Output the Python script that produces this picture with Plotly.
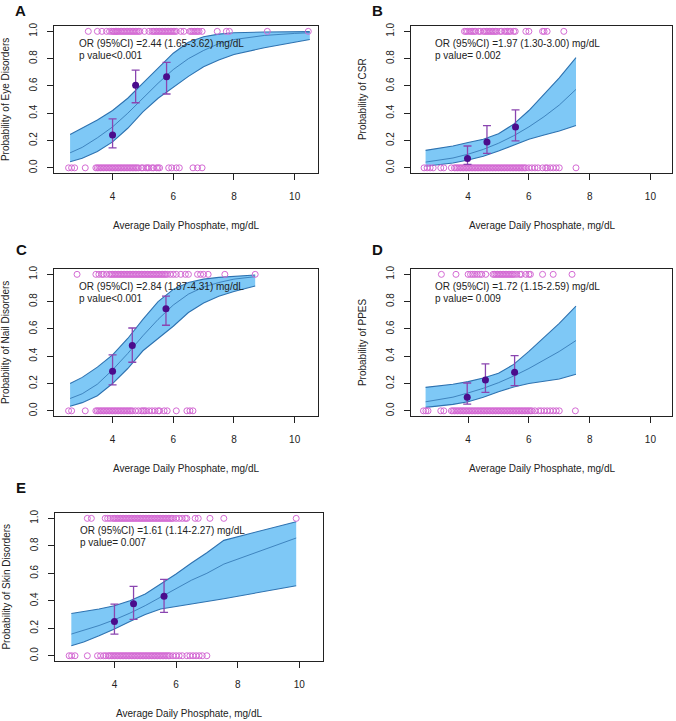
import plotly.graph_objects as go

# ---------------- data ----------------
panel_letters = ["A", "B", "C", "D", "E"]
y_titles = ["Probability of Eye Disorders", "Probability of CSR", "Probability of Nail Disorders",
            "Probability of PPES", "Probability of Skin Disorders"]
or_text = ["OR (95%CI) =2.44 (1.65-3.62) mg/dL", "OR (95%CI) =1.97 (1.30-3.00) mg/dL",
           "OR (95%CI) =2.84 (1.87-4.31) mg/dL", "OR (95%CI) =1.72 (1.15-2.59) mg/dL",
           "OR (95%CI) =1.61 (1.14-2.27) mg/dL"]
p_text = ["p value<0.001", "p value= 0.002", "p value<0.001", "p value= 0.009", "p value= 0.007"]
x_title = "Average Daily Phosphate, mg/dL"
x_ticks = [4, 6, 8, 10]
y_ticks = [0.0, 0.2, 0.4, 0.6, 0.8, 1.0]

# Panel A - Eye disorders
a_curve_x = [2.6, 3.0, 3.5, 4.0, 4.5, 5.0, 5.5, 6.0, 6.5, 7.0, 7.5, 8.0, 9.0, 10.0, 10.5]
a_fit = [0.11, 0.15, 0.22, 0.30, 0.40, 0.51, 0.62, 0.72, 0.80, 0.86, 0.91, 0.94, 0.97, 0.985, 0.99]
a_upper = [0.245, 0.29, 0.35, 0.42, 0.51, 0.62, 0.73, 0.84, 0.92, 0.96, 0.98, 0.99, 0.995, 0.997, 0.998]
a_lower = [0.045, 0.07, 0.12, 0.19, 0.29, 0.41, 0.51, 0.59, 0.67, 0.74, 0.79, 0.83, 0.88, 0.92, 0.94]
a_mean_x = [4.0, 4.76, 5.78]
a_mean_y = [0.24, 0.605, 0.667]
a_mean_lo = [0.146, 0.477, 0.541]
a_mean_hi = [0.358, 0.716, 0.773]
a_events = [3.2, 3.5, 3.65, 3.8, 3.9, 3.97, 4.02, 4.05, 4.1, 4.13, 4.15, 4.2, 4.25, 4.3, 4.35, 4.4,
            4.45, 4.5, 4.55, 4.6, 4.65, 4.7, 4.75, 4.8, 4.85, 4.9, 5.05, 5.2, 5.3, 5.35, 5.4, 5.45,
            5.5, 5.55, 5.6, 5.65, 5.7, 5.75, 5.8, 5.85, 5.9, 5.95, 6.0, 6.05, 6.1, 6.25, 6.35, 6.55,
            6.6, 6.65, 6.7, 6.75, 6.8, 6.85, 6.95, 7.45, 7.75, 7.85, 9.1, 10.45]
a_nonevents = [2.55, 2.65, 2.75, 3.1, 3.45, 3.5, 3.55, 3.6, 3.65, 3.7, 3.75, 3.8, 3.85, 3.9, 3.95,
               4.0, 4.05, 4.1, 4.15, 4.2, 4.25, 4.3, 4.35, 4.4, 4.45, 4.5, 4.55, 4.6, 4.65, 4.7,
               4.75, 4.8, 4.85, 4.95, 5.0, 5.1, 5.15, 5.2, 5.3, 5.35, 5.45, 5.5, 5.55, 5.85, 5.95,
               6.1, 6.2, 6.65, 6.8, 6.95]

# Panel B - CSR
b_curve_x = [2.6, 3.0, 3.5, 4.0, 4.5, 5.0, 5.5, 6.0, 6.5, 7.0, 7.55]
b_fit = [0.042, 0.055, 0.072, 0.10, 0.135, 0.18, 0.235, 0.30, 0.375, 0.46, 0.575]
b_upper = [0.128, 0.14, 0.16, 0.185, 0.21, 0.25, 0.32, 0.42, 0.54, 0.66, 0.807]
b_lower = [0.012, 0.02, 0.035, 0.057, 0.085, 0.123, 0.165, 0.21, 0.24, 0.27, 0.31]
b_mean_x = [3.98, 4.62, 5.56]
b_mean_y = [0.069, 0.19, 0.30]
b_mean_lo = [0.025, 0.106, 0.198]
b_mean_hi = [0.16, 0.309, 0.425]
b_events = [3.88, 3.93, 3.98, 4.05, 4.1, 4.15, 4.2, 4.25, 4.35, 4.4, 4.5, 4.55, 4.6, 4.65, 4.7,
            4.75, 4.8, 4.85, 4.9, 4.95, 5.05, 5.1, 5.2, 5.25, 5.3, 5.35, 5.4, 5.5, 5.55, 5.9, 6.0,
            6.45, 6.5, 6.6, 7.15]
b_nonevents = [2.55, 2.65, 2.75, 2.85, 3.1, 3.2, 3.45, 3.55, 3.6, 3.65, 3.7, 3.75, 3.8, 3.85, 3.9,
               3.95, 4.0, 4.05, 4.1, 4.15, 4.2, 4.25, 4.3, 4.35, 4.4, 4.45, 4.5, 4.55, 4.6, 4.65,
               4.7, 4.75, 4.8, 4.85, 4.9, 4.95, 5.0, 5.05, 5.1, 5.15, 5.2, 5.25, 5.3, 5.35, 5.4,
               5.45, 5.5, 5.55, 5.6, 5.65, 5.7, 5.75, 5.8, 5.85, 5.9, 6.0, 6.1, 6.2, 6.3, 6.45,
               6.55, 6.6, 6.7, 6.8, 6.9, 7.0, 7.55]

# Panel C - Nail disorders
c_curve_x = [2.6, 3.0, 3.5, 4.0, 4.5, 5.0, 5.5, 6.0, 6.5, 7.0, 7.5, 8.0, 8.7]
c_fit = [0.09, 0.125, 0.195, 0.30, 0.42, 0.55, 0.67, 0.775, 0.855, 0.907, 0.94, 0.965, 0.983]
c_upper = [0.20, 0.245, 0.32, 0.41, 0.53, 0.67, 0.80, 0.89, 0.94, 0.965, 0.978, 0.986, 0.995]
c_lower = [0.034, 0.06, 0.11, 0.20, 0.31, 0.44, 0.53, 0.62, 0.72, 0.79, 0.84, 0.875, 0.914]
c_mean_x = [4.0, 4.65, 5.76]
c_mean_y = [0.29, 0.479, 0.747]
c_mean_lo = [0.19, 0.356, 0.627]
c_mean_hi = [0.41, 0.607, 0.84]
c_events = [2.83, 3.45, 3.55, 3.65, 3.7, 3.8, 3.9, 3.95, 4.0, 4.05, 4.1, 4.15, 4.2, 4.25, 4.3,
            4.35, 4.4, 4.45, 4.5, 4.55, 4.6, 4.65, 4.7, 4.75, 4.8, 4.85, 4.9, 4.95, 5.0, 5.05,
            5.1, 5.15, 5.2, 5.25, 5.3, 5.35, 5.4, 5.45, 5.5, 5.55, 5.6, 5.65, 5.7, 5.75, 5.8,
            5.9, 6.0, 6.1, 6.25, 6.4, 6.5, 6.8, 6.9, 7.0, 7.15, 7.7, 8.7]
c_nonevents = [2.55, 2.65, 3.1, 3.45, 3.5, 3.55, 3.6, 3.65, 3.7, 3.75, 3.8, 3.85, 3.9, 3.95, 4.0,
               4.05, 4.1, 4.15, 4.2, 4.25, 4.3, 4.35, 4.4, 4.45, 4.5, 4.55, 4.6, 4.65, 4.75, 4.85,
               4.95, 5.0, 5.05, 5.1, 5.2, 5.3, 5.4, 5.5, 5.55, 5.7, 5.8, 6.1, 6.45, 6.55, 6.65]

# Panel D - PPES
d_curve_x = [2.6, 3.0, 3.5, 4.0, 4.5, 5.0, 5.5, 6.0, 6.5, 7.0, 7.55]
d_fit = [0.066, 0.08, 0.10, 0.131, 0.165, 0.206, 0.255, 0.31, 0.37, 0.435, 0.515]
d_upper = [0.172, 0.18, 0.195, 0.214, 0.24, 0.275, 0.34, 0.435, 0.535, 0.64, 0.767]
d_lower = [0.025, 0.033, 0.047, 0.066, 0.10, 0.14, 0.175, 0.20, 0.217, 0.233, 0.268]
d_mean_x = [3.97, 4.57, 5.53]
d_mean_y = [0.10, 0.226, 0.283]
d_mean_lo = [0.049, 0.135, 0.184]
d_mean_hi = [0.204, 0.344, 0.405]
d_events = [3.12, 3.6, 4.0, 4.08, 4.15, 4.22, 4.3, 4.38, 4.45, 4.58, 4.82, 4.87, 4.92, 4.97, 5.02,
            5.07, 5.12, 5.17, 5.22, 5.27, 5.32, 5.37, 5.42, 5.47, 5.52, 5.6, 5.7, 5.75, 5.9, 6.0,
            6.05, 6.45, 6.8, 7.42]
d_nonevents = [2.53, 2.61, 2.68, 3.1, 3.2, 3.45, 3.5, 3.55, 3.6, 3.65, 3.7, 3.75, 3.8, 3.85, 3.9,
               3.95, 4.0, 4.05, 4.1, 4.15, 4.2, 4.25, 4.3, 4.35, 4.4, 4.45, 4.5, 4.55, 4.6, 4.65,
               4.7, 4.75, 4.8, 4.85, 4.9, 4.95, 5.0, 5.05, 5.1, 5.15, 5.2, 5.25, 5.3, 5.35, 5.4,
               5.45, 5.5, 5.55, 5.6, 5.65, 5.7, 5.75, 5.8, 5.85, 5.9, 5.95, 6.0, 6.05, 6.1, 6.2,
               6.32, 6.4, 6.5, 6.6, 6.7, 6.8, 6.9, 7.0, 7.53]

# Panel E - Skin disorders
e_curve_x = [2.6, 3.0, 3.5, 4.0, 4.5, 5.0, 5.5, 6.0, 6.5, 7.0, 7.55, 9.9]
e_fit = [0.158, 0.185, 0.22, 0.262, 0.31, 0.365, 0.425, 0.49, 0.55, 0.60, 0.667, 0.857]
e_upper = [0.308, 0.32, 0.34, 0.364, 0.40, 0.45, 0.52, 0.595, 0.675, 0.75, 0.84, 0.976]
e_lower = [0.073, 0.10, 0.145, 0.194, 0.25, 0.30, 0.34, 0.36, 0.38, 0.395, 0.415, 0.51]
e_mean_x = [4.0, 4.62, 5.61]
e_mean_y = [0.25, 0.379, 0.434]
e_mean_lo = [0.158, 0.265, 0.316]
e_mean_hi = [0.376, 0.505, 0.556]
e_events = [3.12, 3.25, 3.7, 3.78, 3.86, 3.95, 4.0, 4.05, 4.1, 4.15, 4.2, 4.25, 4.3, 4.35, 4.4,
            4.45, 4.5, 4.55, 4.6, 4.65, 4.7, 4.75, 4.8, 4.85, 4.9, 4.95, 5.0, 5.05, 5.1, 5.15,
            5.2, 5.25, 5.3, 5.35, 5.4, 5.45, 5.5, 5.55, 5.6, 5.65, 5.7, 5.75, 5.8, 5.85, 5.9,
            6.0, 6.1, 6.2, 6.3, 6.35, 6.62, 6.72, 7.1, 7.55, 9.9]
e_nonevents = [2.53, 2.61, 2.72, 3.12, 3.45, 3.55, 3.65, 3.72, 3.8, 3.85, 3.9, 3.95, 4.0, 4.05,
               4.1, 4.15, 4.2, 4.25, 4.3, 4.35, 4.4, 4.45, 4.5, 4.55, 4.6, 4.65, 4.7, 4.75, 4.8,
               4.85, 4.9, 4.95, 5.0, 5.05, 5.1, 5.15, 5.2, 5.25, 5.3, 5.35, 5.4, 5.45, 5.5, 5.55,
               5.6, 5.65, 5.7, 5.75, 5.8, 5.9, 6.0, 6.1, 6.2, 6.35, 6.45, 6.55, 6.65, 6.75, 6.85, 7.0]

panels = [
    (a_curve_x, a_fit, a_upper, a_lower, a_mean_x, a_mean_y, a_mean_lo, a_mean_hi, a_events, a_nonevents),
    (b_curve_x, b_fit, b_upper, b_lower, b_mean_x, b_mean_y, b_mean_lo, b_mean_hi, b_events, b_nonevents),
    (c_curve_x, c_fit, c_upper, c_lower, c_mean_x, c_mean_y, c_mean_lo, c_mean_hi, c_events, c_nonevents),
    (d_curve_x, d_fit, d_upper, d_lower, d_mean_x, d_mean_y, d_mean_lo, d_mean_hi, d_events, d_nonevents),
    (e_curve_x, e_fit, e_upper, e_lower, e_mean_x, e_mean_y, e_mean_lo, e_mean_hi, e_events, e_nonevents),
]

# ---------------- layout geometry (pixels) ----------------
W, H = 676, 721
boxes = [  # left, right, top, bottom in pixels
    (54, 318, 23, 171),
    (411, 672, 23, 171),
    (54, 318, 267, 415),
    (411, 672, 267, 415),
    (55, 323, 512, 661),
]
x_ranges = [[2.07, 10.77], [2.12, 10.71], [2.07, 10.77], [2.12, 10.71], [2.07, 10.77]]
letter_pos = [(20, 8), (377, 8), (21, 248), (377, 248), (21, 487)]

RUG = "#D46AD4"
FILL = "rgba(126,200,246,1)"
EDGE = "#2E72B0"
MEAN = "#4A0C8C"
ERR = "#8A45B0"
FONT = "Liberation Sans, Arial, sans-serif"

fig = go.Figure()
annotations = []

for i, (cx, fit, up, lo, mx, my, mlo, mhi, ev, nev) in enumerate(panels):
    sfx = "" if i == 0 else str(i + 1)
    xa, ya = "x" + sfx, "y" + sfx
    # band
    fig.add_trace(go.Scatter(x=cx, y=up, xaxis=xa, yaxis=ya, mode="lines",
                             line=dict(color=EDGE, width=1.1), showlegend=False, hoverinfo="skip"))
    fig.add_trace(go.Scatter(x=cx, y=lo, xaxis=xa, yaxis=ya, mode="lines", fill="tonexty",
                             fillcolor=FILL, line=dict(color=EDGE, width=1.1), showlegend=False,
                             hoverinfo="skip"))
    fig.add_trace(go.Scatter(x=cx, y=fit, xaxis=xa, yaxis=ya, mode="lines",
                             line=dict(color=EDGE, width=0.8), showlegend=False))
    # rugs
    fig.add_trace(go.Scatter(x=ev, y=[1.0] * len(ev), xaxis=xa, yaxis=ya, mode="markers",
                             marker=dict(symbol="circle-open", size=6, color=RUG, line=dict(width=1)),
                             showlegend=False))
    fig.add_trace(go.Scatter(x=nev, y=[0.0] * len(nev), xaxis=xa, yaxis=ya, mode="markers",
                             marker=dict(symbol="circle-open", size=6, color=RUG, line=dict(width=1)),
                             showlegend=False))
    # means with CI
    fig.add_trace(go.Scatter(x=mx, y=my, xaxis=xa, yaxis=ya, mode="markers",
                             marker=dict(symbol="circle", size=7, color=MEAN),
                             error_y=dict(type="data", symmetric=False,
                                          array=[h - m for h, m in zip(mhi, my)],
                                          arrayminus=[m - l for m, l in zip(my, mlo)],
                                          color=ERR, thickness=1.3, width=4),
                             showlegend=False))

    L, R, T, B = boxes[i]
    xdom = [L / W, R / W]
    ydom = [1 - B / H, 1 - T / H]
    common = dict(showline=True, mirror=True, linecolor="#222", linewidth=1, ticks="outside",
                  ticklen=6, tickcolor="#222", showgrid=False, zeroline=False,
                  tickfont=dict(family=FONT, size=10, color="#222"), fixedrange=True)
    fig.layout["xaxis" + sfx] = dict(domain=xdom, range=x_ranges[i], anchor=ya, tickvals=x_ticks,
                                     ticklabelstandoff=8, **common)
    fig.layout["yaxis" + sfx] = dict(domain=ydom, range=[-0.04, 1.04], anchor=xa, tickvals=y_ticks,
                                     tickformat=".1f", tickangle=-90, ticklabelstandoff=6, **common)

    # axis titles
    annotations.append(dict(text=x_title, xref="paper", yref="paper", x=(L + R) / 2 / W,
                            y=1 - (B + 52) / H, xanchor="center", yanchor="middle", showarrow=False,
                            font=dict(family=FONT, size=10, color="#222")))
    annotations.append(dict(text=y_titles[i], xref="paper", yref="paper", x=(L - 48.5) / W,
                            y=1 - ((T + B) / 2) / H, xanchor="center", yanchor="middle",
                            textangle=-90, showarrow=False,
                            font=dict(family=FONT, size=10, color="#222")))
    # OR / p-value text
    annotations.append(dict(text=or_text[i], xref=xa, yref=ya, x=2.83, y=0.91, xanchor="left",
                            yanchor="middle", showarrow=False,
                            font=dict(family=FONT, size=10, color="#222")))
    annotations.append(dict(text=p_text[i], xref=xa, yref=ya, x=2.83, y=0.825, xanchor="left",
                            yanchor="middle", showarrow=False,
                            font=dict(family=FONT, size=10, color="#222")))
    # panel letter
    lx, ly = letter_pos[i]
    annotations.append(dict(text="<b>" + panel_letters[i] + "</b>", xref="paper", yref="paper",
                            x=lx / W, y=1 - ly / H, xanchor="center", yanchor="middle",
                            showarrow=False, font=dict(family=FONT, size=15, color="#111")))

fig.update_layout(width=W, height=H, margin=dict(l=0, r=0, t=0, b=0), plot_bgcolor="white",
                  paper_bgcolor="white", annotations=annotations, showlegend=False)

fig.write_html("out.html", config={"displayModeBar": False},
               post_script="document.body.style.margin='0';document.body.style.overflow='hidden';")
